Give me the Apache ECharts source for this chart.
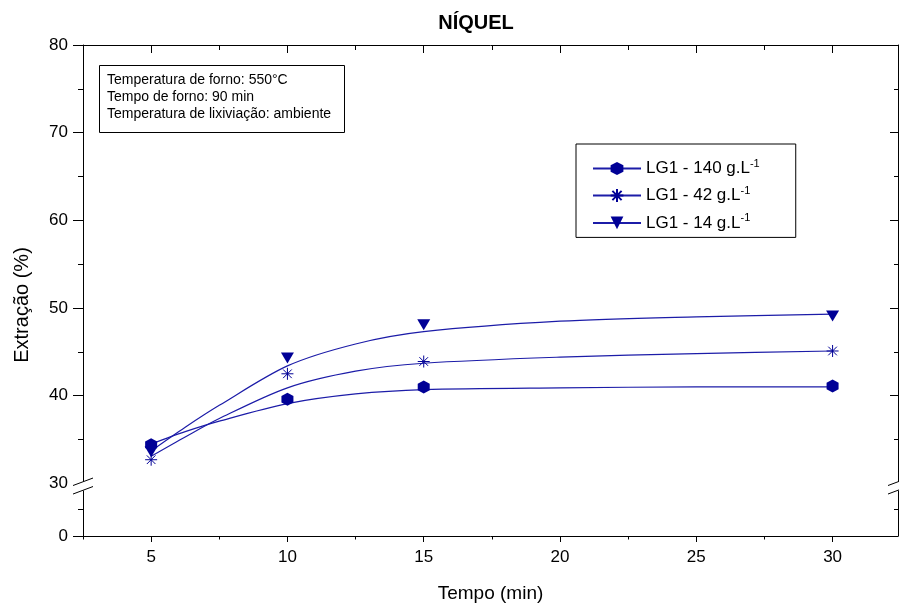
<!DOCTYPE html>
<html>
<head>
<meta charset="utf-8">
<script src="https://cdn.jsdelivr.net/npm/echarts@6/dist/echarts.min.js"></script>
<style>html,body{margin:0;padding:0;background:#fff}#c{width:899px;height:612px}</style>
</head>
<body>
<div id="c"></div>
<script>
// ---- data ----
const seriesNames = ['LG1 - 140 g.L', 'LG1 - 42 g.L', 'LG1 - 14 g.L'];
const xPoints = [5, 10, 15, 30];
const pts140 = [34.4, 39.6, 41.0, 41.1];
const pts42 = [32.7, 42.5, 43.9, 45.1];
const pts14 = [33.6, 44.3, 48.1, 49.1];
// fitted curves
const xFit = [5, 6.25, 7.5, 10, 12.5, 15, 20, 25, 30];
const fit140 = [34.5, 35.9, 37.1, 39.1, 40.2, 40.7, 40.9, 41.0, 41.0];
const fit42 = [33.1, 35.3, 37.4, 40.9, 42.8, 43.7, 44.4, 44.8, 45.1];
const fit14 = [33.7, 36.4, 38.9, 43.4, 45.9, 47.3, 48.5, 49.0, 49.3];
// axis ticks (y axis is broken: lowest value shown as 0)
const xLabels = [5, 10, 15, 20, 25, 30];
const xMinor = [2.5, 7.5, 12.5, 17.5, 22.5, 27.5, 32.5];
const yBreakBase = 24; // position that represents "0" below the axis break
const yLabels = [24, 30, 40, 50, 60, 70, 80];
const yMajor = [24, 40, 50, 60, 70, 80];
const yMinor = [27, 35, 45, 55, 65, 75];
const infoLines = ['Temperatura de forno: 550°C', 'Tempo de forno: 90 min', 'Temperatura de lixiviação: ambiente'];

const FONT = 'Arial, "Liberation Sans", sans-serif';
const C = '#000096';
const LINE = '#1c1ca8';
const hexPath = 'path://M0,-1 L0.866,-0.5 L0.866,0.5 L0,1 L-0.866,0.5 L-0.866,-0.5 Z';
const starPath = 'path://M-1,0 L1,0 M0,-1 L0,1 M-0.72,-0.72 L0.72,0.72 M-0.72,0.72 L0.72,-0.72';
const symbols = [
  {symbol: hexPath, size: [12, 13], rotate: 0, style: {color: C, opacity: 1}},
  {symbol: starPath, size: [12, 12], rotate: 0, style: {color: 'none', borderColor: C, borderWidth: 1, opacity: 1}},
  {symbol: 'triangle', size: [13, 11], rotate: 180, style: {color: C, opacity: 1}}
];
const pts = [pts140, pts42, pts14];
const fits = [fit140, fit42, fit14];

const chart = echarts.init(document.getElementById('c'), null, {renderer: 'canvas'});
const XMIN = 2.5, XMAX = 32.4, YMIN = yBreakBase, YMAX = 80;
const axisLine = {show: true, lineStyle: {color: '#000', width: 1}};
function xAx(pos, ticks, len, inside, labels, showLine) {
  return {
    type: 'value', position: pos, min: XMIN, max: XMAX, gridIndex: 0,
    axisLine: Object.assign({}, axisLine, {show: showLine, onZero: false}),
    splitLine: {show: false},
    axisTick: {show: true, customValues: ticks, length: len, inside: inside, lineStyle: {color: '#000', width: 1}},
    axisLabel: labels ? {show: true, customValues: labels, color: '#000', fontSize: 17, fontFamily: FONT, margin: 13} : {show: false}
  };
}
function yAx(pos, ticks, len, inside, labels, showLine) {
  return {
    type: 'value', position: pos, min: YMIN, max: YMAX, gridIndex: 0,
    axisLine: Object.assign({}, axisLine, {show: showLine, onZero: false}),
    splitLine: {show: false},
    axisTick: {show: true, customValues: ticks, length: len, inside: inside, lineStyle: {color: '#000', width: 1}},
    axisLabel: labels ? {show: true, customValues: labels, color: '#000', fontSize: 17, fontFamily: FONT, margin: 15,
      formatter: v => (v === yBreakBase ? '0' : String(v))} : {show: false}
  };
}

const series = [];
fits.forEach((f, i) => {
  series.push({
    name: seriesNames[i], type: 'line', xAxisIndex: 0, yAxisIndex: 0,
    data: xFit.map((x, k) => [x, f[k]]),
    smooth: 0.3, showSymbol: false,
    symbol: symbols[i].symbol, symbolSize: symbols[i].size, symbolRotate: symbols[i].rotate,
    itemStyle: symbols[i].style,
    lineStyle: {color: LINE, width: 1.2}, color: C, z: 2
  });
});
pts.forEach((p, i) => {
  series.push({
    name: seriesNames[i], type: 'scatter', xAxisIndex: 0, yAxisIndex: 0,
    data: xPoints.map((x, k) => [x, p[k]]),
    symbol: symbols[i].symbol, symbolSize: symbols[i].size, symbolRotate: symbols[i].rotate,
    itemStyle: symbols[i].style, z: 3
  });
});

chart.setOption({
  animation: false,
  backgroundColor: '#fff',
  title: {text: 'NÍQUEL', left: 471, top: 8, textAlign: 'center',
    textStyle: {fontFamily: FONT, fontWeight: 'bold', fontSize: 20, color: '#000'}},
  grid: {left: 83, right: 1, top: 45, bottom: 76, containLabel: false},
  xAxis: [
    Object.assign(xAx('bottom', xLabels, 6, false, xLabels, true),
      {name: 'Tempo (min)', nameLocation: 'middle', nameGap: 48,
       nameTextStyle: {fontFamily: FONT, fontSize: 19, color: '#000'}}),
    xAx('bottom', xMinor, 3.5, false, null, false),
    xAx('top', xLabels, 8, true, null, true),
    xAx('top', xMinor, 5, true, null, false)
  ],
  yAxis: [
    yAx('left', yMajor, 10, false, yLabels, true),
    yAx('left', yMinor, 5, false, null, false),
    yAx('right', yMajor, 8, true, null, true),
    yAx('right', yMinor, 4, true, null, false)
  ],
  legend: {
    orient: 'vertical', left: 576, top: 144,
    data: seriesNames,
    itemWidth: 48, itemHeight: 16, itemGap: 8,
    padding: [14, 36, 6, 16],
    borderColor: '#000', borderWidth: 1, backgroundColor: '#fff',
    selectedMode: false,
    formatter: n => '{t|' + n + '}{s|-1}',
    textStyle: {color: '#000', fontFamily: FONT, fontSize: 17,
      rich: {t: {fontFamily: FONT, fontSize: 17, color: '#000'},
             s: {fontFamily: FONT, fontSize: 11, color: '#000', verticalAlign: 'top', padding: [0, 0, 10, 0]}}}
  },
  series: series
});

// decorations: info box, y-axis name, axis-break marks
const yb = chart.convertToPixel({yAxisIndex: 0}, 29.7);
const xl = chart.convertToPixel({xAxisIndex: 0}, XMIN);
const xr = chart.convertToPixel({xAxisIndex: 0}, XMAX);
function breakMark(x) {
  return [
    {type: 'rect', shape: {x: x - 3, y: yb - 4.5, width: 6, height: 9}, style: {fill: '#fff'}, z: 50},
    {type: 'line', shape: {x1: x - 10, y1: yb - 0.5, x2: x + 10, y2: yb - 8}, style: {stroke: '#000', lineWidth: 1}, z: 51},
    {type: 'line', shape: {x1: x - 10, y1: yb + 8, x2: x + 10, y2: yb + 0.5}, style: {stroke: '#000', lineWidth: 1}, z: 51}
  ];
}
chart.setOption({
  graphic: [
    {type: 'rect', shape: {x: 99.5, y: 65.5, width: 245, height: 67}, style: {fill: '#fff', stroke: '#000', lineWidth: 1}, z: 40},
    {type: 'text', left: 107, top: 72, z: 41,
     style: {text: infoLines.join('\n'), fontFamily: FONT, fontSize: 14, lineHeight: 17, fill: '#000'}},
    {type: 'text', x: 22, y: 305, rotation: Math.PI / 2, z: 41,
     style: {text: 'Extração (%)', fontFamily: FONT, fontSize: 20, fill: '#000', align: 'center', verticalAlign: 'middle'}}
  ].concat(breakMark(xl)).concat(breakMark(xr))
});
</script>
</body>
</html>
